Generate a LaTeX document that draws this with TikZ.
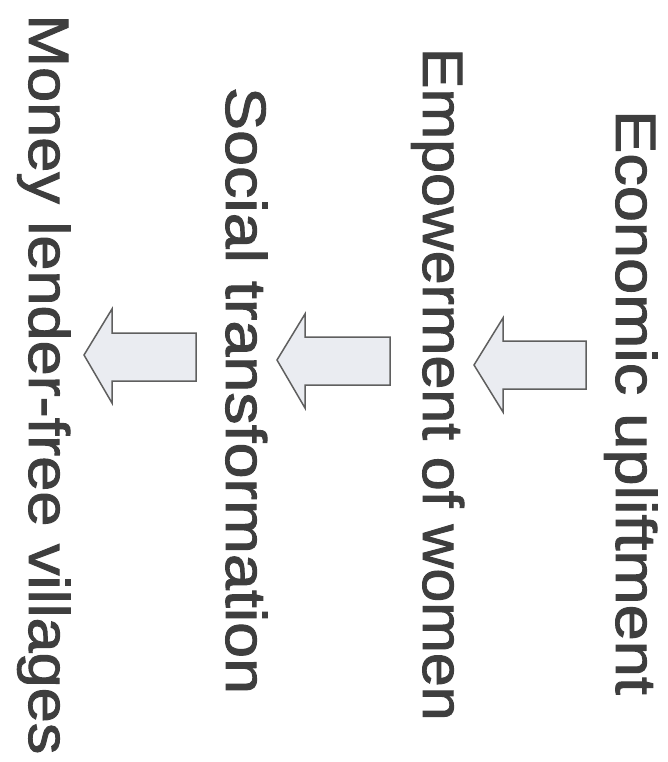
\documentclass[tikz,border=0pt]{standalone}
\usepackage{fontspec}
\setmainfont{Liberation Sans}
\newfontfamily\heavysans{Liberation Sans}[FakeBold=1.6]
\definecolor{txtgray}{RGB}{62,62,62}
\definecolor{arrowfill}{RGB}{234,236,241}
\definecolor{arrowline}{RGB}{95,95,95}
\begin{document}
\begin{tikzpicture}[x=1pt,y=-1pt,
  label/.style={rotate=-90,anchor=base west,inner sep=0pt,outer sep=0pt,text=txtgray,
    font=\heavysans\fontsize{57}{60}\selectfont},
  barrow/.style={draw=arrowline,fill=arrowfill,line width=1.5pt,line join=miter}]
\useasboundingbox[fill=white] (0,0) rectangle (668,762);
\node[label] (econ) at (616,110) {\scalebox{1.14}[1]{Economic upliftment}};
\node[label] (emp) at (423,48) {\scalebox{1.067}[1]{Empowerment of women}};
\node[label] (soc) at (226,87) {\scalebox{1.134}[1]{Social transformation}};
\node[label] (money) at (29,14.5) {\scalebox{1.107}[1]{Money lender-free villages}};
\coordinate (t1) at (474,365);
\coordinate (t2) at (277,360);
\coordinate (t3) at (84,355);
\draw[barrow] (t1) -- ++(29,-47) -- ++(0,23) -- ++(83,0) -- ++(0,48) -- ++(-83,0) -- ++(0,23) -- cycle;
\draw[barrow] (t2) -- ++(28,-46) -- ++(0,23) -- ++(85,0) -- ++(0,48) -- ++(-85,0) -- ++(0,23) -- cycle;
\draw[barrow] (t3) -- ++(28,-46) -- ++(0,24) -- ++(84,0) -- ++(0,48) -- ++(-84,0) -- ++(0,22) -- cycle;
\end{tikzpicture}
\end{document}
